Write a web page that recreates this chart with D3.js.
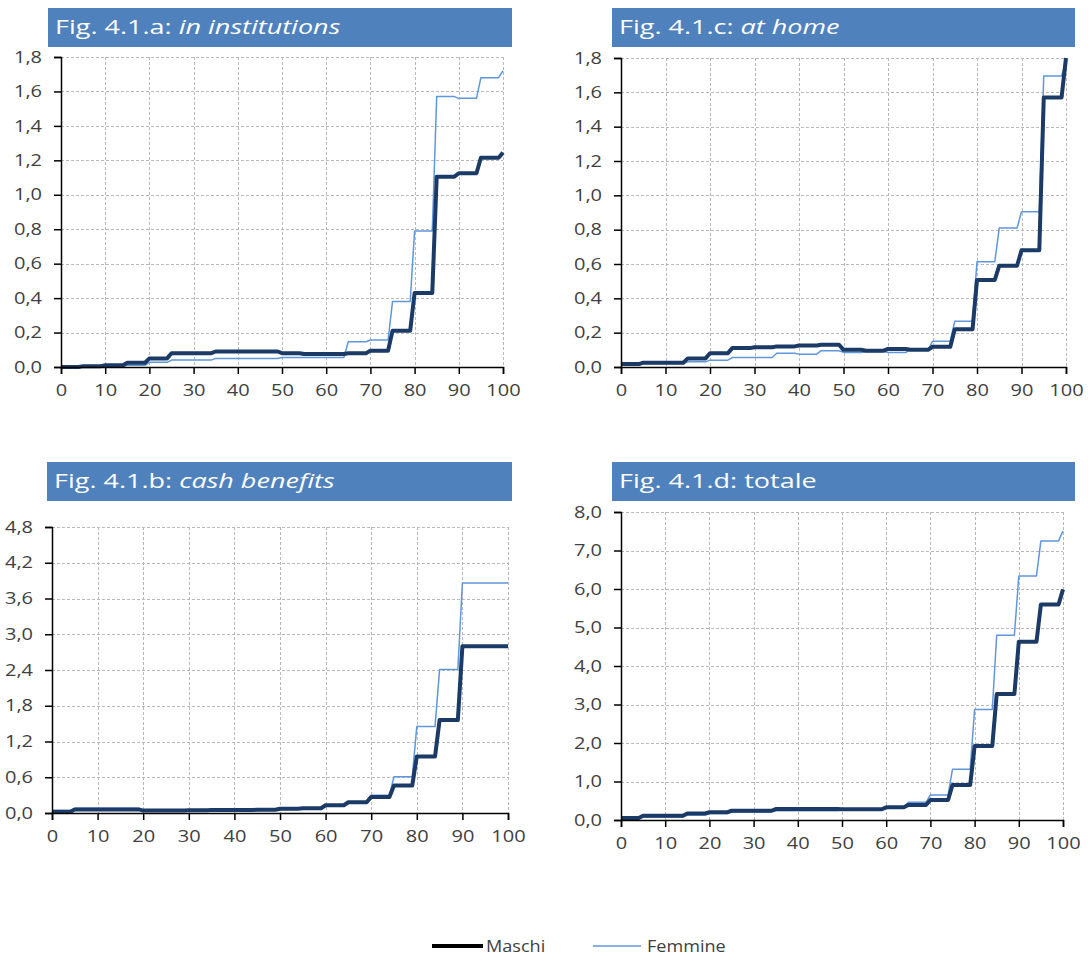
<!DOCTYPE html>
<html>
<head>
<meta charset="utf-8">
<script src="https://cdn.jsdelivr.net/npm/d3@7"></script>
<style>
  html, body { margin: 0; padding: 0; background: #fff; }
  svg { display: block; }
  .tick text { font-family: "Open Sans", "Noto Sans", sans-serif; fill: #404040; }
</style>
</head>
<body>
<svg id="chart" width="1088" height="958"></svg>
<script>
// Five-year age bands (start age); the last entry is the single age 100.
const ageBands = [0, 5, 10, 15, 20, 25, 30, 35, 40, 45, 50, 55, 60, 65, 70, 75, 80, 85, 90, 95, 100];
const xTicks = [0, 10, 20, 30, 40, 50, 60, 70, 80, 90, 100];

// Fig. 4.1.a: in institutions
const instMaschi  = [0.0, 0.005, 0.01, 0.025, 0.05, 0.08, 0.08, 0.09, 0.09, 0.09, 0.08, 0.075, 0.075, 0.08, 0.095, 0.21, 0.43, 1.105, 1.125, 1.215, 1.245];
const instFemmine = [0.0, 0.005, 0.005, 0.01, 0.027, 0.04, 0.04, 0.05, 0.05, 0.05, 0.055, 0.055, 0.055, 0.147, 0.157, 0.38, 0.79, 1.57, 1.56, 1.68, 1.72];
const instTicks   = [0, 0.2, 0.4, 0.6, 0.8, 1.0, 1.2, 1.4, 1.6, 1.8];

// Fig. 4.1.c: at home
const homeMaschi  = [0.017, 0.025, 0.025, 0.05, 0.08, 0.11, 0.115, 0.12, 0.125, 0.13, 0.10, 0.095, 0.105, 0.10, 0.118, 0.22, 0.507, 0.59, 0.68, 1.57, 1.80];
const homeFemmine = [0.01, 0.02, 0.02, 0.03, 0.04, 0.055, 0.055, 0.08, 0.075, 0.095, 0.085, 0.09, 0.085, 0.10, 0.15, 0.267, 0.613, 0.81, 0.905, 1.695, 1.78];
const homeTicks   = [0, 0.2, 0.4, 0.6, 0.8, 1.0, 1.2, 1.4, 1.6, 1.8];

// Fig. 4.1.b: cash benefits
const cashMaschi  = [0.02, 0.06, 0.06, 0.06, 0.04, 0.04, 0.045, 0.05, 0.05, 0.055, 0.07, 0.08, 0.13, 0.18, 0.27, 0.46, 0.95, 1.56, 2.80, 2.80, 2.80];
const cashFemmine = [0.04, 0.08, 0.08, 0.08, 0.045, 0.045, 0.045, 0.05, 0.05, 0.055, 0.07, 0.08, 0.13, 0.19, 0.30, 0.61, 1.45, 2.41, 3.86, 3.86, 3.86];
const cashTicks   = [0, 0.6, 1.2, 1.8, 2.4, 3.0, 3.6, 4.2, 4.8];

// Fig. 4.1.d: totale
const totMaschi  = [0.05, 0.11, 0.11, 0.17, 0.20, 0.24, 0.24, 0.285, 0.285, 0.285, 0.28, 0.28, 0.33, 0.39, 0.52, 0.91, 1.92, 3.27, 4.63, 5.60, 5.99];
const totFemmine = [0.03, 0.08, 0.08, 0.13, 0.17, 0.21, 0.21, 0.24, 0.24, 0.24, 0.26, 0.26, 0.34, 0.46, 0.65, 1.32, 2.87, 4.80, 6.34, 7.25, 7.51];
const totTicks   = [0, 1, 2, 3, 4, 5, 6, 7, 8];

const seriesNames = ["Maschi", "Femmine"];
const colMaschi = "#1b3a66";
const colFemmine = "#5f97dc";
const barColor = "#4f81bd";

// wide-set lettering: horizontal stretch applied to text
const titleStretch = 1.35;
const tickStretch = 1.25;
const legendStretch = 1.13;

const panels = [
  { label: "Fig. 4.1.a: ", sub: "in institutions", italic: true, m: instMaschi, f: instFemmine, ticks: instTicks,
    plot: { l: 61, r: 503, t: 57, b: 367 }, bar: { x: 48, y: 8, w: 464, h: 39 } },
  { label: "Fig. 4.1.c: ", sub: "at home", italic: true, m: homeMaschi, f: homeFemmine, ticks: homeTicks,
    plot: { l: 621, r: 1066, t: 58, b: 367 }, bar: { x: 612, y: 8, w: 463, h: 39 } },
  { label: "Fig. 4.1.b: ", sub: "cash benefits", italic: true, m: cashMaschi, f: cashFemmine, ticks: cashTicks,
    plot: { l: 52, r: 508, t: 527, b: 813 }, bar: { x: 47, y: 462, w: 465, h: 39 } },
  { label: "Fig. 4.1.d: ", sub: "totale", italic: false, m: totMaschi, f: totFemmine, ticks: totTicks,
    plot: { l: 621, r: 1063, t: 512, b: 820 }, bar: { x: 612, y: 462, w: 463, h: 39 } }
];

const svg = d3.select("#chart");
const fmt = v => d3.format(".1f")(v).replace(".", ",");

// Each band is flat across its five ages, rising to the next band over one year.
function stepPoints(values) {
  return ageBands.flatMap((a, i) => a === 100 ? [[a, values[i]]] : [[a, values[i]], [a + 4, values[i]]]);
}

panels.forEach(p => {
  const g = svg.append("g");

  // title bar
  g.append("rect")
    .attr("x", p.bar.x).attr("y", p.bar.y).attr("width", p.bar.w).attr("height", p.bar.h)
    .attr("fill", barColor);
  const title = g.append("text")
    .attr("transform", `translate(${p.bar.x + 7},${p.bar.y + 26}) scale(${titleStretch},1)`)
    .attr("fill", "#fff")
    .style("font-family", "'Open Sans', 'Noto Sans', sans-serif")
    .style("font-size", "20px");
  title.append("tspan").text(p.label);
  title.append("tspan").text(p.sub).style("font-style", p.italic ? "italic" : "normal");

  const x = d3.scaleLinear().domain([0, 100]).range([p.plot.l, p.plot.r]);
  const y = d3.scaleLinear().domain([0, p.ticks[p.ticks.length - 1]]).range([p.plot.b, p.plot.t]);

  // dashed grid
  const grid = g.append("g").attr("stroke", "#b8b8b8").attr("stroke-width", 1).attr("stroke-dasharray", "3,2");
  grid.selectAll("line.v").data(xTicks.slice(1)).join("line")
    .attr("x1", d => Math.round(x(d)) + 0.5).attr("x2", d => Math.round(x(d)) + 0.5)
    .attr("y1", p.plot.t).attr("y2", p.plot.b);
  grid.selectAll("line.h").data(p.ticks.slice(1)).join("line")
    .attr("y1", d => Math.round(y(d)) + 0.5).attr("y2", d => Math.round(y(d)) + 0.5)
    .attr("x1", p.plot.l).attr("x2", p.plot.r);

  // lines: Femmine beneath, Maschi on top
  const line = d3.line().x(d => x(d[0])).y(d => y(d[1]));
  g.append("path").attr("d", line(stepPoints(p.f)))
    .attr("fill", "none").attr("stroke", colFemmine).attr("stroke-width", 1.5).attr("stroke-linejoin", "round");
  g.append("path").attr("d", line(stepPoints(p.m)))
    .attr("fill", "none").attr("stroke", colMaschi).attr("stroke-width", 4).attr("stroke-linejoin", "round");

  // axes
  const yAxis = d3.axisLeft(y).tickValues(p.ticks).tickFormat(fmt).tickSize(7).tickPadding(12);
  const ya = g.append("g").attr("transform", `translate(${p.plot.l},0)`).call(yAxis);
  ya.selectAll(".tick text").style("font-size", "16px")
    .attr("x", 0).attr("transform", `translate(-19,0) scale(${tickStretch},1)`);
  const xAxis = d3.axisBottom(x).tickValues(xTicks).tickFormat(d3.format("d")).tickSize(7).tickPadding(11);
  const xa = g.append("g").attr("transform", `translate(0,${p.plot.b})`).call(xAxis);
  xa.selectAll(".tick text").style("font-size", "16px")
    .attr("transform", `scale(${tickStretch},1)`);
  [ya, xa].forEach(a => {
    a.select(".domain").attr("stroke", "#000").attr("stroke-width", 1.5);
    a.selectAll(".tick line").attr("stroke", "#000").attr("stroke-width", 1.5);
  });
});

// legend
const legend = svg.append("g").style("font-family", "'Open Sans', 'Noto Sans', sans-serif").style("font-size", "16px");
const legendItems = [
  { name: seriesNames[0], color: "#000", width: 4, x0: 432, x1: 483, tx: 486 },
  { name: seriesNames[1], color: colFemmine, width: 1.5, x0: 593, x1: 641, tx: 647 }
];
legendItems.forEach(it => {
  legend.append("line").attr("x1", it.x0).attr("x2", it.x1).attr("y1", 946).attr("y2", 946)
    .attr("stroke", it.color).attr("stroke-width", it.width);
  legend.append("text").attr("transform", `translate(${it.tx},952) scale(${legendStretch},1)`)
    .attr("fill", "#404040").text(it.name);
});
</script>
</body>
</html>
